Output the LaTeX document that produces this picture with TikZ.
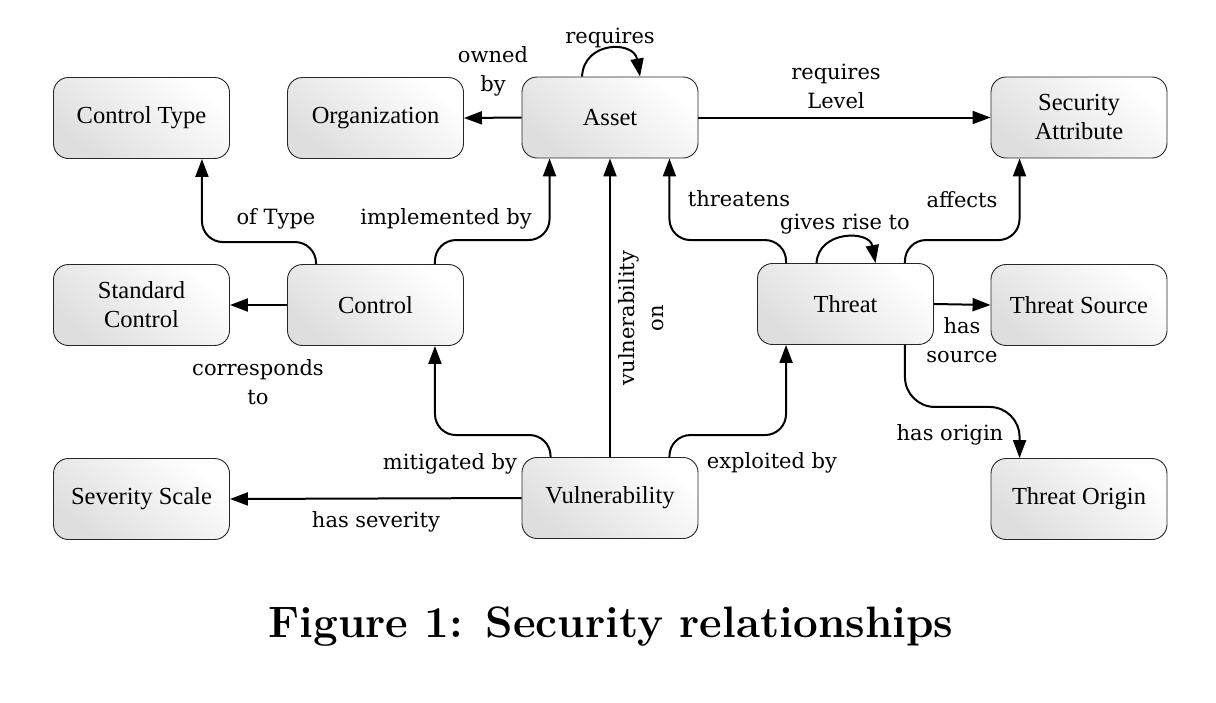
\documentclass[tikz,border=0pt]{standalone}
\usepackage{fontspec}
\usetikzlibrary{arrows.meta,calc}
\newfontfamily\nodefnt{Liberation Serif}
\newfontfamily\lblfnt{DejaVu Serif}
\tikzset{
  concept/.style={draw=black!85, line width=0.9pt, rounded corners=15pt,
    top color=white, bottom color=black!13, shading angle=-40,
    minimum width=176pt, minimum height=81pt, inner sep=0pt, align=center,
    font=\nodefnt\fontsize{24.5}{29}\selectfont},
  lbl/.style={inner sep=0pt, align=center, font=\lblfnt\fontsize{21}{29}\selectfont},
  edge/.style={line width=2pt, -{Triangle[length=18pt,width=13pt]}},
}
\begin{document}
\begin{tikzpicture}[x=1pt,y=-1pt]
\useasboundingbox (0,0) rectangle (1216,702);
% nodes
\node[concept] (ctype) at (141.5,118) {Control Type};
\node[concept] (org)   at (375.5,118) {Organization};
\node[concept] (asset) at (610,117.5) {Asset};
\node[concept] (sa)    at (1079,117.5) {Security\\Attribute};
\node[concept] (sc)    at (141.5,305) {Standard\\Control};
\node[concept] (ctl)   at (375.5,305) {Control};
\node[concept] (thr)   at (845.5,304) {Threat};
\node[concept] (ts)    at (1079,305) {Threat Source};
\node[concept] (sev)   at (141.5,499) {Severity Scale};
\node[concept] (vul)   at (610,498) {Vulnerability};
\node[concept] (to)    at (1079,499) {Threat Origin};
% straight edges
\draw[edge] (asset.west) -- (org.east);
\draw[edge] (asset.east) -- (sa.west);
\draw[edge] (ctl.west) -- (sc.east);
\draw[edge] (thr.east) -- (ts.west);
\draw[edge] (vul.west) -- (sev.east);
\draw[edge] (vul.north) -- (asset.south);
% curved edges
\draw[edge, rounded corners=21pt] ($(ctl.north west)+(29,0)$) -- ++(0,-22) -| ($(ctype.south east)+(-28,0)$);
\draw[edge, rounded corners=21pt] ($(ctl.north east)+(-29,0)$) -- ++(0,-24) -| ($(asset.south west)+(28,0)$);
\draw[edge, rounded corners=21pt] ($(vul.north west)+(29,0)$) -- ++(0,-22) -| ($(ctl.south east)+(-29,0)$);
\draw[edge, rounded corners=21pt] ($(vul.north east)+(-29,0)$) -- ++(0,-22) -| ($(thr.south west)+(29,0)$);
\draw[edge, rounded corners=21pt] ($(thr.north west)+(29,0)$) -- ++(0,-23) -| ($(asset.south east)+(-29,0)$);
\draw[edge, rounded corners=21pt] ($(thr.north east)+(-29,0)$) -- ++(0,-23) -| ($(sa.south west)+(29,0)$);
\draw[edge, rounded corners=30pt] ($(thr.south east)+(-29,0)$) -- ++(0,62) -| ($(to.north west)+(29,0)$);
% self loops
\draw[edge] ($(asset.north)+(-28,0)$) .. controls +(2,-36) and +(-6,-36) .. ($(asset.north)+(30,0)$);
\draw[edge] ($(thr.north)+(-29,0)$) .. controls +(2,-33) and +(-6,-33) .. ($(thr.north)+(30,0)$);
% labels
\node[lbl] (l1) at (493,71.5) {owned\\by};
\node[lbl] (l2) at (610,38) {requires};
\node[lbl] (l3) at (836,86) {requires\\Level};
\node[lbl] (l4) at (276,219) {of Type};
\node[lbl] (l5) at (446,219) {implemented by};
\node[lbl] (l6) at (739,199) {threatens};
\node[lbl] (l7) at (845,224) {gives rise to};
\node[lbl] (l8) at (962,200) {affects};
\node[lbl] (l9) at (962,340) {has\\source};
\node[lbl] (l10) at (950,435) {has origin};
\node[lbl] (l11) at (258,382) {corresponds\\to};
\node[lbl] (l12) at (450,464) {mitigated by};
\node[lbl] (l13) at (772,463) {exploited by};
\node[lbl] (l14) at (376,522) {has severity};
\node[lbl, rotate=90] (l15) at (641,318) {vulnerability\\on};
% caption
\node[anchor=base, inner sep=0pt, font=\fontsize{44}{52}\selectfont\bfseries] (cap) at (611,637) {Figure 1: Security relationships};
\end{tikzpicture}
\end{document}
